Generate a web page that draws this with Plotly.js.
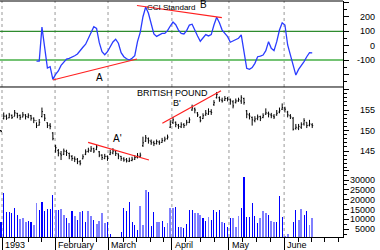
<!DOCTYPE html>
<html><head><meta charset="utf-8">
<script src="https://cdn.plot.ly/plotly-3.0.1.min.js"></script>
<style>html,body{margin:0;padding:0;background:#fff;}#chart{width:380px;height:250px;}</style>
</head><body><div id="chart"></div>
<script>
// ---- data ----
const cci = [null,null,null,null,null,null,null,null,null,null,null,null,null,
-107,-107,130,-7,-156,-146,-235,-200,-176,-137,-111,-93,-88,-81,-70,-58,-30,-11,10,52,98,132,121,21,-42,-63,-42,-7,26,45,17,-49,-77,-91,-100,-88,-70,28,93,202,270,226,149,82,65,77,86,86,105,137,165,146,109,86,82,105,144,150,105,68,31,54,77,68,77,144,198,160,109,86,63,24,35,45,52,75,-30,-158,-165,-153,-123,-77,-72,-65,-35,28,-18,-35,28,109,160,144,5,-72,-146,-205,-165,-141,-111,-77,-49,-50];

const open = [150.0,152.9,153.5,153.1,153.7,153.4,154.2,153.7,153.3,153.8,153.3,153.6,153.0,152.4,151.3,153.4,153.9,151.9,151.3,149.4,146.2,145.1,144.3,144.2,144.9,144.4,143.7,143.2,143.0,142.4,143.1,144.2,144.9,145.0,145.6,145.4,144.8,144.0,143.2,143.7,144.2,144.5,145.0,144.3,143.7,143.1,142.9,142.5,142.7,143.0,143.4,143.7,146.3,147.4,148.0,147.4,147.1,146.8,147.2,147.1,147.5,148.0,150.8,151.9,152.0,151.3,150.9,151.5,151.3,152.0,155.0,155.3,154.3,153.2,152.9,153.8,154.0,154.6,156.3,158.0,158.0,157.4,157.4,157.8,157.5,157.0,156.8,157.2,157.2,157.8,154.8,153.8,153.2,152.4,152.9,153.4,153.2,154.0,154.2,153.8,153.5,153.8,154.5,155.2,155.5,154.5,153.6,153.0,150.5,150.6,150.8,151.6,152.0,151.3,151.4];
const high = [150.1,154.4,153.9,154.3,153.9,155.0,154.3,153.9,154.5,154.0,154.2,153.8,153.2,152.0,152.8,155.6,154.0,152.0,151.8,149.6,146.5,145.5,145.0,145.6,145.3,144.6,144.0,143.7,143.3,142.8,144.2,145.4,145.8,146.2,145.8,146.5,145.0,144.2,144.3,143.9,145.3,145.7,145.2,144.4,143.8,143.5,143.3,143.4,143.6,144.0,144.5,144.6,148.5,148.9,148.3,147.8,147.5,147.8,147.6,148.2,148.5,149.0,152.5,153.3,152.2,151.6,152.0,151.8,152.6,153.2,156.3,155.6,154.5,153.5,154.2,155.0,155.4,155.2,157.4,159.4,158.3,158.0,158.4,158.2,157.8,157.4,157.8,158.0,158.6,158.0,155.0,154.3,153.4,153.5,153.9,153.6,154.2,155.4,154.6,154.3,154.0,155.0,155.6,156.6,155.8,154.8,154.0,153.3,151.6,151.6,152.0,153.0,152.0,152.6,151.8];
const low = [149.6,152.7,152.6,153.0,152.8,153.5,153.0,152.6,153.2,152.7,153.0,152.4,151.8,150.6,151.2,153.2,152.3,150.6,150.3,147.6,144.6,143.7,142.8,144.0,143.8,143.0,142.6,142.3,141.8,141.5,143.0,144.0,144.6,144.8,144.5,145.2,143.5,142.8,143.0,142.6,144.0,144.2,143.8,143.0,142.6,142.4,142.2,142.3,142.5,142.8,143.2,143.4,146.0,147.2,146.8,146.5,146.2,146.6,146.5,147.0,147.3,147.8,150.6,151.6,150.8,150.4,150.6,150.6,151.4,151.8,154.8,154.2,153.3,152.0,152.8,153.6,153.8,153.8,156.0,157.8,157.0,156.8,157.2,157.1,156.3,155.4,156.6,157.0,156.5,156.3,153.0,152.7,151.2,152.0,152.5,152.3,153.0,153.8,153.2,153.0,152.8,153.6,154.2,155.0,154.4,153.2,152.8,150.0,150.2,150.1,150.4,151.2,150.6,151.0,150.6];
const close = [149.8,153.5,153.0,153.8,153.2,154.3,153.6,153.2,153.8,153.4,153.7,153.0,152.5,151.2,152.0,154.6,153.0,151.2,151.0,148.0,145.8,144.5,144.0,145.0,144.6,143.8,143.2,143.0,142.4,142.0,143.6,144.8,145.2,145.5,145.0,146.0,144.0,143.4,143.7,143.2,144.6,145.0,144.4,143.8,143.2,142.8,142.6,142.7,143.0,143.4,143.8,144.0,147.0,148.2,147.5,147.0,146.8,147.3,147.0,147.6,147.9,148.4,151.5,152.6,151.5,151.0,151.4,151.2,152.0,152.6,155.5,155.0,153.8,152.4,153.6,154.2,154.6,154.4,156.8,158.8,157.5,157.2,157.8,157.6,157.2,156.0,157.2,157.5,158.0,156.8,154.0,153.5,152.6,152.8,153.3,153.0,153.6,154.3,154.0,153.6,153.3,154.2,154.8,155.6,155.2,153.8,153.3,150.3,150.8,151.0,151.5,152.4,151.2,151.6,151.2];

const volume = [8870,23560,13930,13930,13100,15640,12260,10080,10590,8870,9380,8870,7190,18170,14790,18850,14440,15120,15120,22390,14790,14790,15120,12260,10590,8360,14440,11920,9730,13930,14440,8530,14440,11750,9730,7700,9000,13100,8360,8530,2480,400,400,400,3830,15960,14440,19000,8530,7190,4660,16820,7190,24930,24070,6690,13600,8530,8530,9380,6010,8050,15960,15960,16140,6010,6330,5830,7700,14790,14790,13100,13430,12260,10590,9380,11410,9730,14790,13930,14790,8870,8050,6010,10590,10930,6010,11750,15640,31400,11410,11410,18510,11920,8360,10590,14280,13100,12260,9380,8870,8870,21880,11410,1630,2480,300,8870,14790,9730,15120,12260,14280,7190,10930];
// 1 = dark bar, 0 = light bar
const volDark = [1,1,1,1,1,1,1,0,0,0,1,1,0,0,1,1,1,1,1,1,0,1,0,0,1,0,1,0,1,0,1,1,0,0,1,0,0,0,0,1,1,1,1,1,1,1,1,1,1,1,1,0,0,0,1,1,1,0,0,1,1,0,0,0,1,1,0,1,1,1,1,0,0,0,1,1,0,1,1,1,1,0,1,1,1,0,0,0,1,1,1,1,1,1,1,0,0,0,1,0,0,1,1,1,0,0,0,1,1,0,0,1,1,0,0];

// trend lines [x = trading-day index, y = value]
const trendA_x = [19.0, 49.8], trendA_y = [-239, -93];
const trendB_x = [49.8, 80.9], trendB_y = [280, 195];
const trendA2_x = [31.9, 54.2], trendA2_y = [147.1, 142.8];
const trendB2_x = [59.1, 80.6], trendB2_y = [151.75, 159.7];

const cciLevels = [100, -100];
const monthPos = [0.37, 19.8, 39.2, 62.6, 83.5, 103.7];
const monthLabels = ['1993', 'February', 'March', 'April', 'May', 'June'];
const weekTicks = [5, 10, 15, 25, 30, 35, 44.8, 49.7, 54.6, 59.5, 67.5, 73, 78.3, 88.6, 93.7, 98.8, 108.8, 113.9, 118.6, 123.6];
const cciTickVals = [200, 100, 0, -100];
const priceTickVals = [145, 150, 155];
const volTickVals = [5000, 10000, 15000, 20000, 25000, 30000];

// ---- build ----
const days = close.map((_, i) => i);
const FONT = 'Liberation Sans, Arial, sans-serif';
const red = '#ff2020';

const traces = [
  {type:'scatter', mode:'lines', x:days, y:cci, xaxis:'x', yaxis:'y', line:{color:'#2a3cff', width:1.3}, connectgaps:false},
  {type:'scatter', mode:'lines', x:trendA_x, y:trendA_y, xaxis:'x', yaxis:'y', line:{color:red, width:1.2}},
  {type:'scatter', mode:'lines', x:trendB_x, y:trendB_y, xaxis:'x', yaxis:'y', line:{color:red, width:1.2}},
  {type:'ohlc', x:days, open:open, high:high, low:low, close:close, xaxis:'x', yaxis:'y2',
   increasing:{line:{color:'#000', width:1}}, decreasing:{line:{color:'#000', width:1}}, tickwidth:0.35},
  {type:'scatter', mode:'lines', x:trendA2_x, y:trendA2_y, xaxis:'x', yaxis:'y2', line:{color:red, width:1.2}},
  {type:'scatter', mode:'lines', x:trendB2_x, y:trendB2_y, xaxis:'x', yaxis:'y2', line:{color:red, width:1.2}},
  {type:'bar', x:days, y:volume, xaxis:'x', yaxis:'y3',
   marker:{color:volDark.map(d => d ? '#0000ff' : '#8080ff'), line:{width:0}},
   width:volDark.map(d => d ? 0.4 : 0.7)}
];

const yCommon = {side:'right', anchor:'x', showline:true, linecolor:'#000', linewidth:1, ticks:'outside',
  tickcolor:'#000', ticklen:5, showticklabels:false, showgrid:false, zeroline:false, tickmode:'linear', fixedrange:true};

const shapes = [];
monthPos.forEach(m => shapes.push({type:'line', xref:'x', yref:'paper', x0:m, x1:m, y0:0, y1:1,
  line:{color:'#999', width:1, dash:'3px,3px'}, layer:'below'}));
cciLevels.forEach((v, k) => shapes.push({type:'line', xref:'paper', yref:'y', x0:0, x1:1, y0:v, y1:v,
  line:{color: k === 0 ? '#2e8b2e' : '#74c374', width: k === 0 ? 1.2 : 2}, layer:'below'}));
[1, 0.6356].forEach(p => shapes.push({type:'line', xref:'paper', yref:'paper', x0:0, x1:1, y0:p, y1:p,
  line:{color:'#000', width:1}}));

const ann = [];
const lab = (text, x, y, size, xanchor) => ann.push({text, xref:'paper', yref:'paper', x:x/343, y:(237-y)/236,
  xanchor:xanchor||'center', yanchor:'middle', showarrow:false, borderpad:0, font:{family:FONT, size:size, color:'#000'}});
monthPos.forEach((m, k) => ann.push({text:monthLabels[k], xref:'x', yref:'paper', x:m, y:(237-245)/236,
  xanchor:'left', yanchor:'middle', xshift:1, showarrow:false, font:{family:FONT, size:9, color:'#000'}}));
const tickLab = (vals, yref) => vals.forEach(v => ann.push({text:String(v), xref:'paper', yref:yref, x:377/343, y:v,
  xanchor:'right', yanchor:'middle', showarrow:false, font:{family:FONT, size:9, color:'#000'}}));
tickLab(cciTickVals, 'y'); tickLab(priceTickVals, 'y2'); tickLab(volTickVals, 'y3');
lab('CCI Standard', 146, 7, 8, 'left');
lab('B', 203, 5, 10);
lab('A', 99, 77, 10);
lab('BRITISH POUND', 136, 93, 9, 'left');
lab("B'", 177, 103, 9);
lab("A'", 117, 138, 10);

const layout = {
  width:380, height:250, margin:{l:0, r:37, t:1, b:13, pad:0},
  paper_bgcolor:'#fff', plot_bgcolor:'#fff', showlegend:false, bargap:0,
  font:{family:FONT, size:9, color:'#000'},
  xaxis:{domain:[0,1], range:[-0.366, 125.27], anchor:'y3', showline:true, linecolor:'#000', linewidth:1,
    tickmode:'array', tickvals:monthPos, ticks:'outside', ticklen:13, tickcolor:'#000', showticklabels:false,
    showgrid:false, zeroline:false, rangeslider:{visible:false}, fixedrange:true,
    minor:{tickmode:'array', tickvals:weekTicks, ticks:'outside', ticklen:4, tickcolor:'#000', showgrid:false}},
  yaxis:Object.assign({}, yCommon, {domain:[0.6356,1], range:[-288,311.5], tick0:0, dtick:100,
    minor:{tick0:0, dtick:50, ticks:'outside', ticklen:3, tickcolor:'#000', showgrid:false}}),
  yaxis2:Object.assign({}, yCommon, {domain:[0.2839,0.6356], range:[140.37,160.61], tick0:0, dtick:5,
    minor:{tick0:0, dtick:1, ticks:'outside', ticklen:3, tickcolor:'#000', showgrid:false}}),
  yaxis3:Object.assign({}, yCommon, {domain:[0,0.2839], range:[1115,35090], tick0:0, dtick:5000,
    minor:{tick0:0, dtick:2500, ticks:'outside', ticklen:3, tickcolor:'#000', showgrid:false}}),
  shapes:shapes, annotations:ann
};

Plotly.newPlot('chart', traces, layout, {staticPlot:true, displayModeBar:false});
</script></body></html>
